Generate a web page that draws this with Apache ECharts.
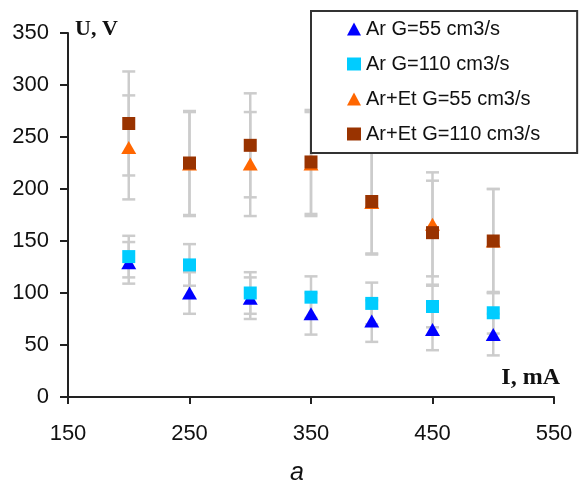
<!DOCTYPE html>
<html>
<head>
<meta charset="utf-8">
<script src="https://cdn.jsdelivr.net/npm/echarts@6/dist/echarts.min.js"></script>
<style>
  html, body { margin: 0; padding: 0; background: #fff; }
  #chart { width: 579px; height: 482px; }
</style>
</head>
<body>
<div id="chart"></div>
<script>
// discharge current, mA
var current = [200, 250, 300, 350, 400, 450, 500];

// voltage U, V for each gas mix
var uAr55 = [129, 100, 95, 80, 73, 65, 60];
var uAr110 = [135, 127, 100, 96, 90, 87, 81];
var uArEt55 = [240, 224, 224, 224, 187, 166, 150];
var uArEt110 = [263, 225, 242, 226, 188, 158, 150];

// error bar half-heights
var errAr55 = [20, 20, 20, 20, 20, 20, 20];
var errAr110 = [20, 20, 20, 20, 20, 20, 20];
var errArEt55 = [50, 50, 50, 50, 50, 50, 50];
var errArEt110 = [50, 50, 50, 50, 50, 50, 50];

var seriesNames = ['Ar G=55 cm3/s', 'Ar G=110 cm3/s', 'Ar+Et G=55 cm3/s', 'Ar+Et G=110 cm3/s'];
var seriesColors = ['#0000ff', '#00ccff', '#ff6600', '#993300'];
var seriesSymbols = ['triangle', 'rect', 'triangle', 'rect'];
var seriesValues = [uAr55, uAr110, uArEt55, uArEt110];
var seriesErrors = [errAr55, errAr110, errArEt55, errArEt110];

var chart = echarts.init(document.getElementById('chart'));

// [x, low, high] rows for the error bars
var errRows = [];
for (var s = 0; s < seriesValues.length; s++) {
  for (var i = 0; i < current.length; i++) {
    errRows.push([current[i], seriesValues[s][i] - seriesErrors[s][i], seriesValues[s][i] + seriesErrors[s][i]]);
  }
}

var series = [{
  type: 'custom',
  name: 'err',
  silent: true,
  z: 1,
  data: errRows,
  renderItem: function (params, api) {
    var x = api.value(0);
    var lo = api.coord([x, api.value(1)]);
    var hi = api.coord([x, api.value(2)]);
    var cap = 6.5;
    var style = { stroke: '#cccccc', lineWidth: 2.5 };
    return {
      type: 'group',
      children: [
        { type: 'line', shape: { x1: lo[0], y1: lo[1], x2: hi[0], y2: hi[1] }, style: style },
        { type: 'line', shape: { x1: lo[0] - cap, y1: lo[1], x2: lo[0] + cap, y2: lo[1] }, style: style },
        { type: 'line', shape: { x1: hi[0] - cap, y1: hi[1], x2: hi[0] + cap, y2: hi[1] }, style: style }
      ]
    };
  }
}];

for (var k = 0; k < seriesValues.length; k++) {
  series.push({
    type: 'scatter',
    name: seriesNames[k],
    symbol: seriesSymbols[k],
    symbolSize: seriesSymbols[k] === 'rect' ? 13 : [15, 13],
    itemStyle: { color: seriesColors[k], opacity: 1 },
    z: 3 + k,
    data: current.map(function (x, i) { return [x, seriesValues[k][i]]; })
  });
}

var option = {
  animation: false,
  backgroundColor: '#fff',
  textStyle: { fontFamily: 'Liberation Sans, Arial, sans-serif' },
  grid: { left: 68, right: 25, top: 33, bottom: 85, containLabel: false },
  legend: {
    data: seriesNames,
    orient: 'vertical',
    left: 311,
    top: 11,
    padding: [8, 37, 9, 36],
    itemGap: 15,
    itemWidth: 14,
    itemHeight: 13,
    backgroundColor: '#fff',
    borderColor: '#333',
    borderWidth: 2,
    borderRadius: 0,
    textStyle: { fontSize: 20, color: '#111', fontFamily: 'Liberation Sans, Arial, sans-serif' },
    z: 10
  },
  xAxis: {
    type: 'value',
    min: 150,
    max: 550,
    interval: 100,
    splitLine: { show: false },
    axisLine: { lineStyle: { color: '#222', width: 2 } },
    axisTick: { length: 7, lineStyle: { color: '#222', width: 2 } },
    axisLabel: { fontSize: 22, color: '#111', margin: 26 }
  },
  yAxis: {
    type: 'value',
    min: 0,
    max: 350,
    interval: 50,
    splitLine: { show: false },
    axisLine: { show: true, lineStyle: { color: '#222', width: 2 } },
    axisTick: { show: true, length: 8, lineStyle: { color: '#222', width: 2 } },
    axisLabel: { fontSize: 22, color: '#111', margin: 19 }
  },
  graphic: [
    { type: 'text', left: 75, top: 18, style: { text: 'U, V', font: 'bold 22px "Liberation Serif", "Times New Roman", serif', fill: '#111' } },
    { type: 'text', right: 19, top: 366, style: { text: 'I, mA', font: 'bold 24px "Liberation Serif", "Times New Roman", serif', fill: '#111' } },
    { type: 'text', left: 290, top: 461, style: { text: 'a', font: 'italic 25px "Liberation Sans", Arial, sans-serif', fill: '#111' } }
  ],
  series: series
};

chart.setOption(option);
</script>
</body>
</html>
